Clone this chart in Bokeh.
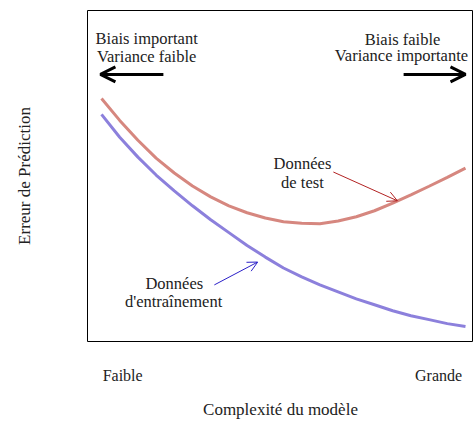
from bokeh.plotting import figure
from bokeh.models import Range1d, Arrow, OpenHead, FixedTicker, ColumnDataSource
from bokeh.core.properties import value
from bokeh.embed import file_html
from bokeh.resources import INLINE

# ---- data ----
complexity = [0, 0.5, 1, 1.5, 2, 2.5, 3, 3.5, 4, 4.5, 5, 5.5, 6, 6.5, 7, 7.5, 8, 8.5, 9, 9.5, 10]
test_error = [7.34, 6.68, 6.08, 5.54, 5.09, 4.70, 4.37, 4.10, 3.89, 3.73, 3.62, 3.57, 3.56,
              3.64, 3.77, 3.95, 4.18, 4.43, 4.69, 4.96, 5.24]
train_error = [6.86, 6.17, 5.57, 5.03, 4.55, 4.10, 3.68, 3.29, 2.90, 2.55, 2.22, 1.95, 1.71,
               1.50, 1.29, 1.11, 0.93, 0.78, 0.66, 0.54, 0.45]
tick_positions = [0.58, 9.26]
tick_labels = ["Faible", "Grande"]
annotation_texts = ["Biais important", "Variance faible", "Biais faible", "Variance importante",
                    "Données", "de test", "Données", "d'entraînement"]

FONT = "Liberation Serif"
TXT = "#222222"
RED = "#d6877f"
BLUE = "#8c80dc"

p = figure(width=473, height=421, output_backend="svg", toolbar_location=None,
           x_range=Range1d(-0.385, 10.22), y_range=Range1d(0, 10),
           min_border_left=87, min_border_right=0, min_border_top=10, min_border_bottom=77)
p.background_fill_color = "white"
p.border_fill_color = "white"
p.outline_line_color = "black"
p.outline_line_width = 1
p.xgrid.visible = False
p.ygrid.visible = False

# x axis
xa = p.xaxis[0]
xa.ticker = FixedTicker(ticks=tick_positions)
xa.major_label_overrides = {tick_positions[0]: tick_labels[0], tick_positions[1]: tick_labels[1]}
xa.major_tick_line_color = None
xa.minor_tick_line_color = None
xa.major_tick_out = 0
xa.axis_line_color = None
xa.major_label_standoff = 25
xa.major_label_text_font = FONT
xa.major_label_text_font_size = "16px"
xa.major_label_text_color = TXT
xa.axis_label = "Complexité du modèle"
xa.axis_label_text_font = FONT
xa.axis_label_text_font_size = "17px"
xa.axis_label_text_font_style = "normal"
xa.axis_label_text_color = TXT
xa.axis_label_standoff = 13

# y axis
ya = p.yaxis[0]
ya.ticker = FixedTicker(ticks=[])
ya.major_tick_line_color = None
ya.minor_tick_line_color = None
ya.major_tick_out = 0
ya.axis_line_color = None
ya.axis_label = "Erreur de Prédiction"
ya.axis_label_text_font = FONT
ya.axis_label_text_font_size = "17px"
ya.axis_label_text_font_style = "normal"
ya.axis_label_text_color = TXT
ya.axis_label_standoff = 54

# curves
p.line(complexity, test_error, line_color=RED, line_width=3)
p.line(complexity, train_error, line_color=BLUE, line_width=3)

# big arrows
p.add_layout(Arrow(x_start=1.70, y_start=8.07, x_end=-0.03, y_end=8.07,
                   line_color="black", line_width=3,
                   end=OpenHead(size=15, line_color="black", line_width=3)))
p.add_layout(Arrow(x_start=8.30, y_start=8.07, x_end=10.0, y_end=8.07,
                   line_color="black", line_width=3,
                   end=OpenHead(size=15, line_color="black", line_width=3)))

# annotation arrows
p.add_layout(Arrow(x_start=6.37, y_start=5.12, x_end=8.13, y_end=4.25,
                   line_color="#b22222", line_width=1,
                   end=OpenHead(size=10, line_color="#b22222", line_width=1)))
p.add_layout(Arrow(x_start=3.10, y_start=1.71, x_end=4.29, y_end=2.40,
                   line_color="#2b20c8", line_width=1,
                   end=OpenHead(size=10, line_color="#2b20c8", line_width=1)))

# annotation texts
src = ColumnDataSource(dict(
    x=[1.24, 1.24, 8.27, 8.24, 5.52, 5.52, 2.00, 1.98],
    y=[9.14, 8.61, 9.11, 8.64, 5.37, 4.79, 1.75, 1.21],
    text=annotation_texts,
))
p.text(x="x", y="y", text="text", source=src, text_font=value(FONT),
       text_font_size="16.5px", text_color=TXT, text_align="center",
       text_baseline="alphabetic")

open("out.html", "w").write(file_html(p, INLINE))
